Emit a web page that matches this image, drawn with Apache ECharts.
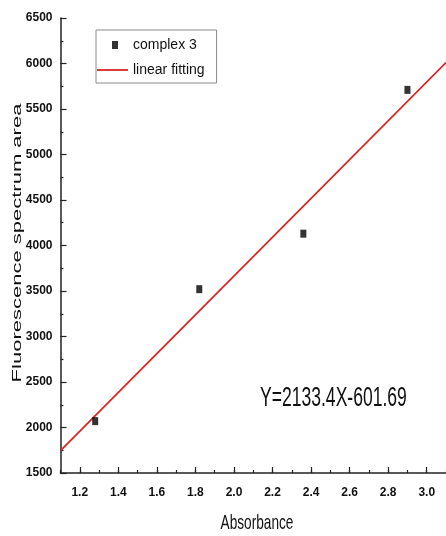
<!DOCTYPE html>
<html>
<head>
<meta charset="utf-8">
<script src="https://cdn.jsdelivr.net/npm/echarts@6/dist/echarts.min.js"></script>
<style>
  html, body { margin: 0; padding: 0; background: #fff; }
  #chart { width: 446px; height: 536px; }
</style>
</head>
<body>
<div id="chart"></div>
<script>
// measured points (absorbance, fluorescence area)
var absorbance = [1.28, 1.82, 2.36, 2.90];
var fluoArea = [2070, 3520, 4130, 5710];
// fitted line, end points
var fitX = [1.1, 3.1];
var fitY = [1745, 6010];
var equationText = 'Y=2133.4X-601.69';

var labelFont = '"Liberation Sans", Arial, sans-serif';
var textFont = '"Liberation Sans", Arial, sans-serif';
var fitColor = '#d92323';

var chart = echarts.init(document.getElementById('chart'));

var option = {
    backgroundColor: '#fff',
    animation: false,
    grid: { left: 60.5, right: -6.6, top: 18, bottom: 63 },
    legend: {
        orient: 'vertical',
        left: 96,
        top: 30,
        padding: [8, 12, 6, 1],
        itemWidth: 31,
        itemHeight: 14,
        itemGap: 11,
        borderColor: '#8a8a8a',
        borderWidth: 1,
        textStyle: { fontFamily: textFont, fontSize: 14, color: '#111' },
        data: [
            { name: 'complex 3', icon: 'path://M0,0M31,14M15,3h6v8h-6z' },
            { name: 'linear fitting', icon: 'path://M0,0M31,14M0,6.1h31v1.8h-31z' }
        ]
    },
    xAxis: [{
        type: 'value',
        min: 1.1,
        max: 3.1,
        splitNumber: 10,
        axisLine: { onZero: false, lineStyle: { color: '#222', width: 1.5 } },
        axisTick: { inside: true, length: 6, lineStyle: { color: '#222', width: 1.2 } },
        axisLabel: {
            margin: 14,
            showMinLabel: false,
            showMaxLabel: false,
            fontFamily: labelFont,
            fontWeight: 'bold',
            fontSize: 12,
            color: '#111',
            formatter: function (v) {
                return Math.abs(v * 5 - Math.round(v * 5)) < 1e-6 ? v.toFixed(1) : '';
            }
        },
        splitLine: { show: false }
    }, {
        // minor ticks only
        type: 'value',
        position: 'bottom',
        min: 1.1,
        max: 3.1,
        interval: 0.1,
        axisLine: { show: false, onZero: false },
        axisTick: { inside: true, length: 3, lineStyle: { color: '#222', width: 1.2 } },
        axisLabel: { show: false },
        splitLine: { show: false }
    }],
    yAxis: {
        type: 'value',
        min: 1500,
        max: 6500,
        interval: 500,
        axisLine: { show: true, onZero: false, lineStyle: { color: '#222', width: 1.5 } },
        axisTick: { show: true, inside: true, length: 6, lineStyle: { color: '#222', width: 1.2 } },
        minorTick: { show: true, splitNumber: 2, length: 3, lineStyle: { color: '#222', width: 1.2 } },
        axisLabel: {
            margin: 8,
            fontFamily: labelFont,
            fontWeight: 'bold',
            fontSize: 12,
            color: '#111',
            formatter: function (v) { return String(v); }
        },
        splitLine: { show: false }
    },
    graphic: [{
        type: 'text',
        x: 260,
        y: 399,
        scaleX: 0.65,
        style: {
            text: equationText,
            font: '27px ' + textFont,
            fill: '#111',
            textVerticalAlign: 'middle'
        }
    }, {
        type: 'text',
        x: 257,
        y: 523,
        scaleX: 0.65,
        style: {
            text: 'Absorbance',
            font: '21px ' + textFont,
            fill: '#111',
            textAlign: 'center',
            textVerticalAlign: 'middle'
        }
    }, {
        type: 'text',
        x: 17,
        y: 243,
        rotation: Math.PI / 2,
        scaleY: 0.62,
        style: {
            text: 'Fluorescence spectrum area',
            font: '22px ' + textFont,
            fill: '#111',
            textAlign: 'center',
            textVerticalAlign: 'middle'
        }
    }],
    series: [{
        name: 'complex 3',
        type: 'scatter',
        symbol: 'rect',
        symbolSize: [6, 8],
        itemStyle: { color: '#000' },
        data: absorbance.map(function (x, i) { return [x, fluoArea[i]]; }),
        z: 3
    }, {
        name: 'linear fitting',
        type: 'line',
        showSymbol: false,
        symbol: 'none',
        lineStyle: { color: fitColor, width: 1.8 },
        itemStyle: { color: fitColor },
        data: fitX.map(function (x, i) { return [x, fitY[i]]; }),
        z: 2
    }]
};

chart.setOption(option);
</script>
</body>
</html>
